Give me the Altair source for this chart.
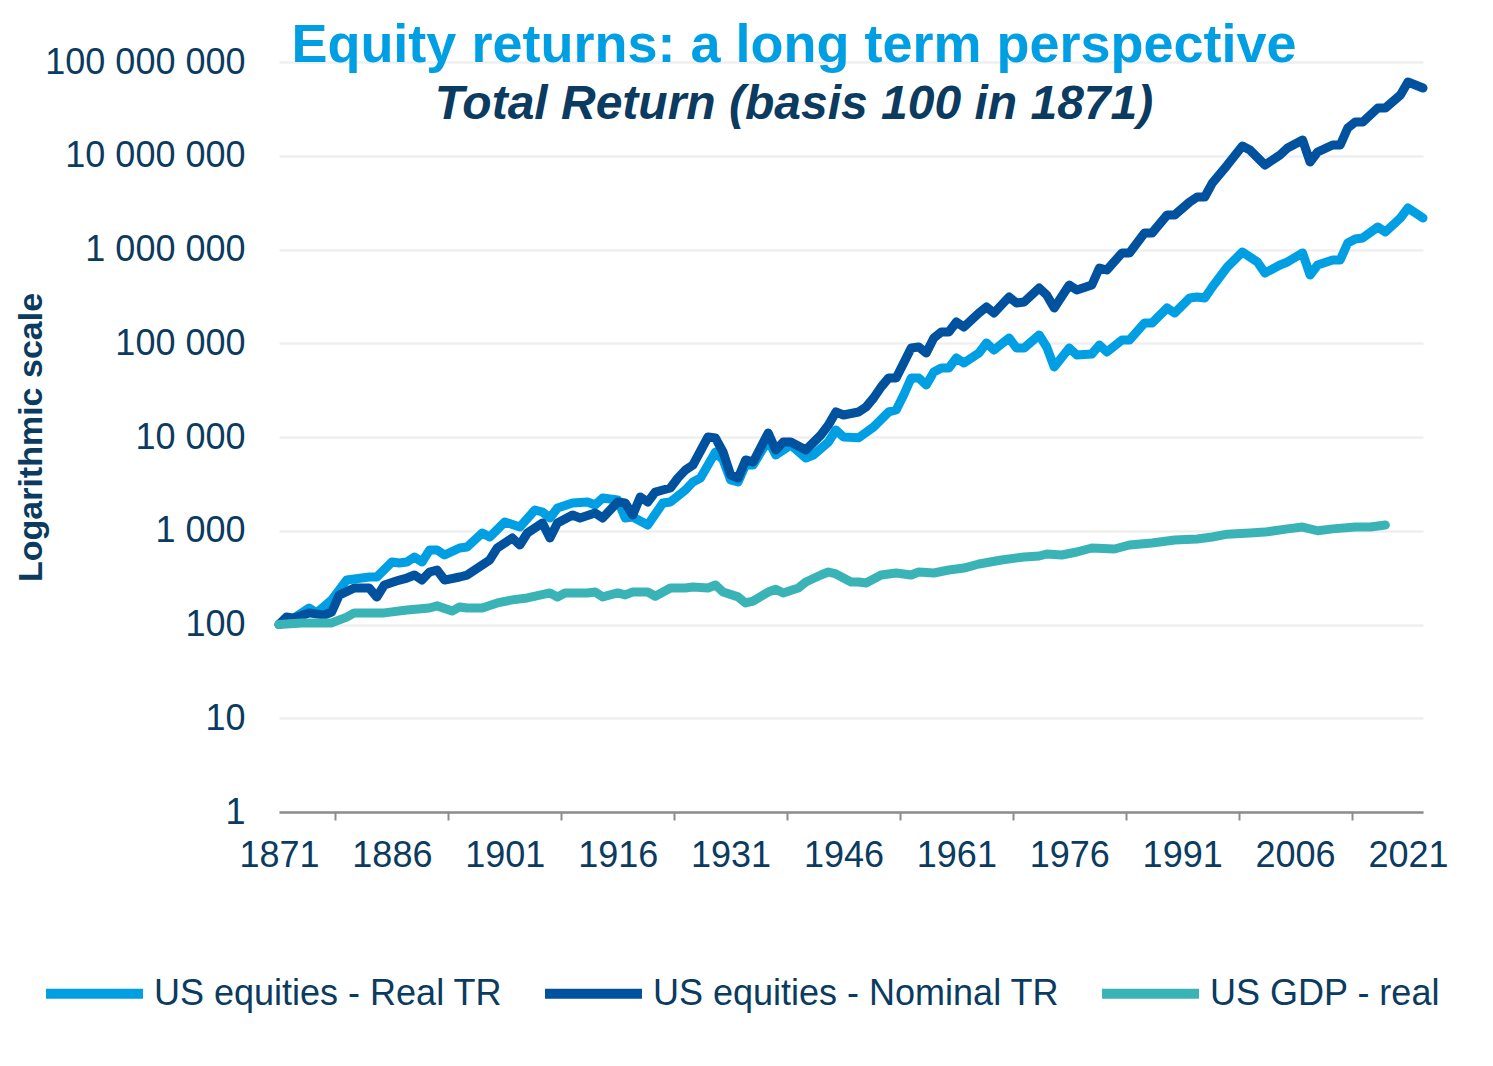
import altair as alt
import pandas as pd

# ---------------- data ----------------
series_names = ["US equities - Real TR", "US equities - Nominal TR", "US GDP - real"]
series_colors = ["#009FE3", "#00519E", "#3AB3B6"]

real_years = [1871, 1873, 1875, 1876, 1878, 1880, 1883, 1884, 1886, 1887, 1888, 1889, 1890,
              1891, 1892, 1893, 1895, 1896, 1898, 1899, 1901, 1903, 1905, 1906, 1907, 1908,
              1910, 1912, 1913, 1914, 1916, 1917, 1918, 1920, 1922, 1923, 1925, 1926, 1927,
              1929, 1930, 1931, 1932, 1933, 1934, 1936, 1937, 1939, 1941, 1942, 1944, 1945,
              1946, 1948, 1950, 1952, 1953, 1954, 1955, 1956, 1957, 1958, 1959, 1960, 1961,
              1962, 1964, 1965, 1966, 1968, 1969, 1970, 1972, 1973, 1974, 1976, 1977, 1979,
              1980, 1981, 1983, 1984, 1986, 1987, 1989, 1990, 1992, 1993, 1994, 1995, 1997,
              1999, 2001, 2002, 2004, 2005, 2007, 2008, 2009, 2011, 2012, 2013, 2014, 2015,
              2017, 2018, 2020, 2021, 2023]
real_values = [100, 117, 150, 133, 183, 298, 321, 321, 464, 453, 464, 525, 464,
               623, 623, 551, 655, 671, 946, 858, 1240, 1096, 1665, 1585, 1368, 1750,
               1977, 2027, 1883, 2236, 2128, 1368, 1402, 1152, 1977, 2027, 2720, 3311, 3654,
               6918, 5689, 3477, 3311, 5027, 5027, 9290, 6427, 8222, 5970, 6427, 8847, 11880,
               10000, 9800, 12790, 18490, 19410, 28050, 42580, 42580, 35890, 49330, 54450, 54450, 69660,
               61550, 78700, 100700, 84700, 113800, 89000, 89000, 122500, 91200, 55800, 89000, 75000, 76800,
               95700, 80700, 108300, 108300, 164400, 164400, 237700, 210400, 304000, 311400, 304000, 398000, 650000,
               940000, 736000, 561000, 684000, 736000, 918000, 535000, 684000, 773000, 773000, 1173000, 1294000, 1327000,
               1738000, 1538000, 2168000, 2772000, 2168000]

nominal_years = [1871, 1872, 1873, 1875, 1877, 1878, 1879, 1881, 1883, 1884, 1885, 1887, 1888,
                 1889, 1890, 1891, 1892, 1893, 1895, 1896, 1899, 1900, 1902, 1903, 1904, 1906,
                 1907, 1908, 1910, 1911, 1913, 1914, 1916, 1917, 1918, 1919, 1920, 1921, 1922,
                 1923, 1924, 1925, 1926, 1928, 1929, 1930, 1931, 1932, 1933, 1934, 1936, 1937,
                 1938, 1939, 1941, 1943, 1944, 1945, 1946, 1948, 1949, 1950, 1951, 1952, 1953,
                 1954, 1955, 1956, 1957, 1958, 1959, 1960, 1961, 1962, 1964, 1965, 1966, 1968,
                 1969, 1970, 1972, 1973, 1974, 1976, 1977, 1979, 1980, 1981, 1983, 1984, 1986,
                 1987, 1989, 1990, 1992, 1993, 1994, 1995, 1997, 1999, 2000, 2002, 2004, 2005,
                 2007, 2008, 2009, 2011, 2012, 2013, 2014, 2015, 2017, 2018, 2020, 2021, 2023]
nominal_values = [100, 120, 117, 133, 126, 136, 206, 245, 245, 196, 264, 298, 313,
                  337, 298, 363, 381, 298, 321, 337, 488, 655, 837, 705, 946, 1210,
                  837, 1210, 1472, 1368, 1545, 1368, 2027, 1977, 1472, 2291, 2027, 2588, 2720,
                  2858, 3654, 4446, 5027, 10000, 9750, 6918, 3936, 3654, 5689, 5413, 11040, 7262,
                  8847, 8847, 7262, 10500, 13430, 18490, 17170, 18490, 20890, 26060, 34140, 42580, 42580,
                  61550, 89000, 91200, 78700, 113800, 131800, 131800, 168600, 149000, 210400, 243600, 210400, 311400,
                  268700, 275400, 388200, 327300, 237700, 417800, 369800, 417800, 635000, 604000, 918000, 918000, 1500000,
                  1500000, 2333000, 2333000, 3213000, 3631000, 3631000, 5117000, 7962000, 12700000, 11510000, 7962000, 10190000, 12100000,
                  14720000, 8577000, 10960000, 13030000, 13030000, 19780000, 22910000, 22910000, 32300000, 32300000, 44460000, 61190000, 52800000]

gdp_years = [1871, 1874, 1878, 1880, 1881, 1885, 1888, 1891, 1892, 1894, 1895, 1896, 1898,
             1900, 1902, 1904, 1907, 1908, 1909, 1912, 1913, 1914, 1916, 1917, 1918, 1920,
             1921, 1923, 1925, 1926, 1928, 1929, 1930, 1932, 1933, 1934, 1936, 1937, 1938,
             1940, 1941, 1943, 1944, 1945, 1947, 1948, 1949, 1951, 1953, 1955, 1956, 1958,
             1960, 1962, 1964, 1967, 1970, 1972, 1973, 1975, 1977, 1979, 1982, 1984, 1987,
             1990, 1993, 1995, 1997, 2000, 2002, 2005, 2007, 2009, 2011, 2014, 2016, 2018]
gdp_values = [100, 104, 104, 120, 133, 133, 143, 150, 158, 139, 154, 150, 150,
              170, 183, 192, 217, 197, 217, 217, 222, 197, 217, 207, 222, 222,
              200, 245, 245, 251, 245, 264, 222, 197, 170, 178, 222, 238, 217,
              245, 284, 337, 363, 346, 284, 284, 277, 337, 354, 337, 363, 354,
              381, 400, 442, 488, 525, 538, 565, 551, 593, 655, 639, 705, 740,
              797, 817, 858, 920, 946, 967, 1047, 1096, 1000, 1047, 1096, 1096, 1150]

x_label_years = [1871, 1886, 1901, 1916, 1931, 1946, 1961, 1976, 1991, 2006, 2021]
y_tick_values = [1, 10, 100, 1000, 10000, 100000, 1000000, 10000000, 100000000]

# ---------------- table ----------------
rows = []
for name, yrs, vals in zip(series_names,
                           [real_years, nominal_years, gdp_years],
                           [real_values, nominal_values, gdp_values]):
    for yr, v in zip(yrs, vals):
        rows.append({"series": name, "year": yr, "value": v})
df = pd.DataFrame(rows)

FONT = "Liberation Sans"
NAVY = "#0B3B60"
AXIS_GRAY = "#8C8C8C"

# tick marks sit half-way between the year labels, as in the reference
between_ticks = [y + 7.5 for y in x_label_years[:-1]]
x_axis_values = sorted(x_label_years + between_ticks)

x_enc = alt.X(
    "year:Q",
    scale=alt.Scale(domain=[1871, 2023], nice=False, zero=False),
    axis=alt.Axis(
        title=None,
        values=x_axis_values,
        labelExpr="datum.value % 1 == 0 ? format(datum.value, 'd') : ''",
        labelFont=FONT, labelFontSize=36, labelColor=NAVY,
        labelFlush=False, labelOverlap=False, labelPadding=18,
        grid=False,
        domain=True, domainColor=AXIS_GRAY, domainWidth=2.5,
        ticks=True, tickSize=8, tickWidth=2,
        tickColor={"condition": {"test": "datum.value % 1 == 0", "value": "transparent"},
                   "value": AXIS_GRAY},
    ),
)

y_enc = alt.Y(
    "value:Q",
    scale=alt.Scale(type="log", domain=[1, 100000000], nice=False),
    axis=alt.Axis(
        title="Logarithmic scale",
        titleFont=FONT, titleFontSize=34, titleFontWeight="bold", titleColor=NAVY,
        titleAngle=-90, titleX=-238, titleY=375, titleAlign="center",
        titleBaseline="alphabetic", titleLimit=0,
        values=y_tick_values,
        labelExpr="replace(format(datum.value, ','), regexp(',', 'g'), ' ')",
        labelFont=FONT, labelFontSize=36, labelColor=NAVY, labelPadding=34,
        labelOverlap=False, labelLimit=0,
        ticks=False, tickSize=0, domain=False,
        grid=True, gridColor="#EFEFEF", gridWidth=2.5,
    ),
)

color_enc = alt.Color(
    "series:N",
    scale=alt.Scale(domain=series_names, range=series_colors),
    legend=alt.Legend(
        title=None, orient="none", direction="horizontal",
        legendX=-238, legendY=878,
        symbolType="stroke", symbolSize=9400, symbolStrokeWidth=10,
        labelFont=FONT, labelFontSize=36, labelColor=NAVY, labelOffset=6,
        labelLimit=0, columnPadding=22,
    ),
)

base = alt.Chart(df).encode(x=x_enc, y=y_enc, color=color_enc)

layers = [
    base.transform_filter(alt.datum.series == name).mark_line(
        strokeWidth=9, strokeCap="round", strokeJoin="round"
    )
    for name in series_names
]

chart = alt.layer(*layers).properties(
    width=1144,
    height=750,
    autosize=alt.AutoSizeParams(type="none"),
    padding={"left": 271, "top": 54, "right": 55, "bottom": 240},
    title=alt.TitleParams(
        text="Equity returns: a long term perspective",
        subtitle="Total Return (basis 100 in 1871)",
        font=FONT, fontSize=54, fontWeight="bold", color="#009FE3",
        subtitleFont=FONT, subtitleFontSize=48, subtitleFontWeight="bold",
        subtitleFontStyle="italic", subtitleColor=NAVY, subtitlePadding=8,
        anchor="middle", dx=-57, offset=-85,
    ),
).configure_view(stroke=None)

chart.save("out.html", embed_options={"renderer": "svg", "actions": False})
